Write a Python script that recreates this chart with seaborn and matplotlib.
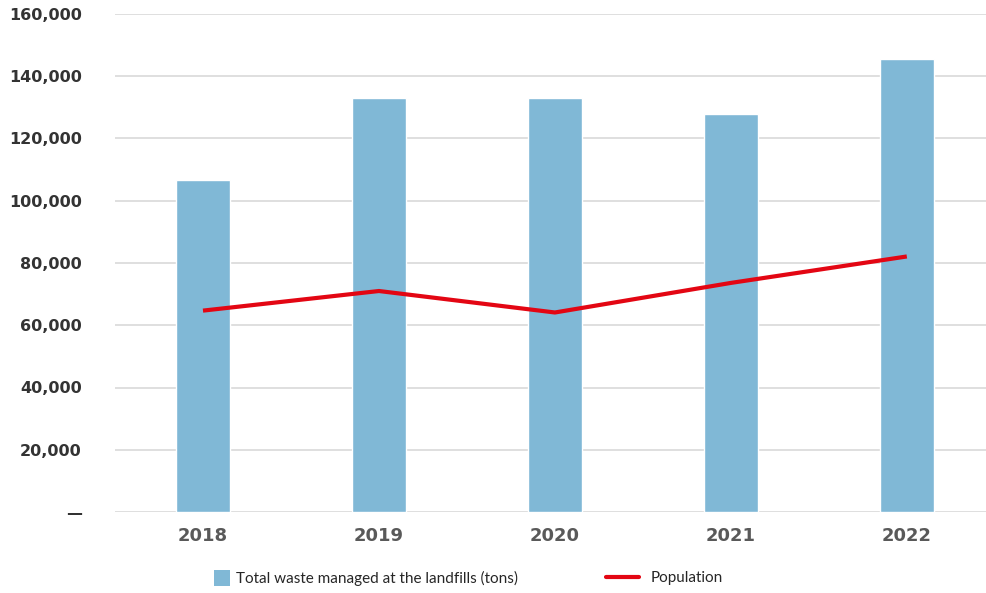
import numpy as np
import pandas as pd
import matplotlib
matplotlib.use("Agg")
import matplotlib.pyplot as plt
from matplotlib.patches import Patch
from matplotlib.lines import Line2D
from matplotlib.ticker import FuncFormatter
import seaborn as sns

years = ["2018", "2019", "2020", "2021", "2022"]
waste_tons = [106600, 133100, 133100, 127900, 145600]
population = [64700, 71000, 64100, 73600, 82100]
y_ticks = [0, 20000, 40000, 60000, 80000, 100000, 120000, 140000, 160000]

bar_color = "#80B8D6"
line_color = "#E30613"
grid_color = "#D9D9D9"

sns.set_theme(style="white")
plt.rcParams["font.family"] = ["DejaVu Sans"]

fig = plt.figure(figsize=(9.86, 5.93), dpi=100)
ax = fig.add_axes([115 / 986, 1 - 512 / 593, 1 - 115 / 986, (512 - 14) / 593])

df = pd.DataFrame({"year": years, "waste": waste_tons})
sns.barplot(data=df, x="year", y="waste", color=bar_color, width=0.31,
            saturation=1, ax=ax, zorder=2)
sns.lineplot(x=np.arange(len(years)), y=population, color=line_color,
             linewidth=3, ax=ax, zorder=3, solid_capstyle="butt")

ax.set_xlim(-0.5, 4.45)
ax.set_ylim(0, 160000)
ax.set_yticks(y_ticks)
ax.yaxis.set_major_formatter(FuncFormatter(lambda v, p: "—" if v == 0 else f"{int(v):,}"))
ax.grid(axis="y", color=grid_color, linewidth=1.2, zorder=0)
ax.set_axisbelow(True)
for s in ax.spines.values():
    s.set_visible(False)
ax.set_xlabel("")
ax.set_ylabel("")
ax.tick_params(axis="y", length=0, pad=24, labelsize=11.5, labelcolor="#333333")
ax.tick_params(axis="x", length=0, pad=11, labelsize=13, labelcolor="#595959")
for lbl in ax.get_yticklabels():
    lbl.set_fontweight("bold")
for lbl in ax.get_xticklabels():
    lbl.set_fontweight("bold")

leg_font = {"family": "Lato", "size": 11}
h1 = Patch(facecolor=bar_color, edgecolor="none")
leg1 = fig.legend([h1], ["Total waste managed at the landfills (tons)"],
                  loc="center left", bbox_to_anchor=(209 / 986, 1 - 578 / 593),
                  frameon=False, prop=leg_font, handlelength=1.05, handleheight=1.2,
                  handletextpad=0.45, borderaxespad=0, borderpad=0.3)
for t in leg1.get_texts():
    t.set_color("#262626")
h2 = Line2D([], [], color=line_color, linewidth=3)
leg2 = fig.legend([h2], ["Population"],
                  loc="center left", bbox_to_anchor=(601 / 986, 1 - 578 / 593),
                  frameon=False, prop=leg_font, handlelength=2.2,
                  handletextpad=0.75, borderaxespad=0, borderpad=0.3)
for t in leg2.get_texts():
    t.set_color("#262626")

fig.savefig("out.png", dpi=100)
